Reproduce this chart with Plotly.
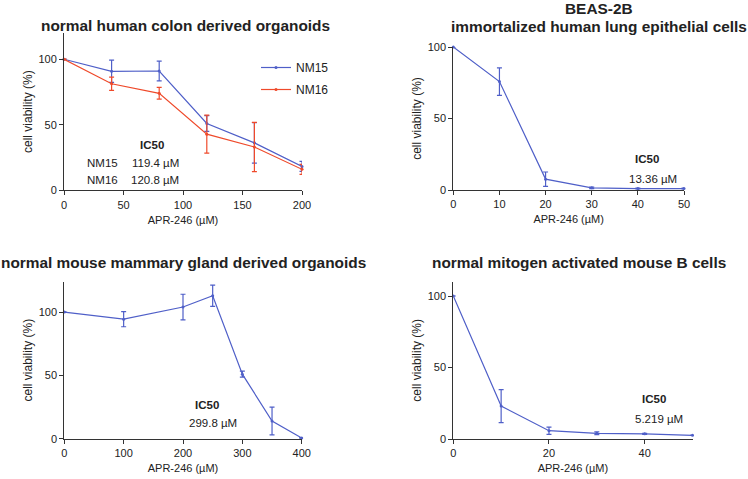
import plotly.graph_objects as go

BLUE = "#4F5FC8"
RED = "#EF4A2B"
FONT = "Arial, Liberation Sans, sans-serif"

# Panel 1: normal human colon derived organoids
p1_dose = [0, 40, 80, 120, 160, 200]
p1_nm15 = [100, 90.8, 91.0, 51.0, 36.2, 18.2]
p1_nm15_err = [0, 8.5, 7.5, 6.0, 15.5, 3.8]
p1_nm16 = [100, 81.3, 74.0, 42.8, 33.0, 16.0]
p1_nm16_err = [0, 5.0, 4.5, 14.5, 18.8, 3.8]

# Panel 2: BEAS-2B
p2_dose = [0, 10, 20, 30, 40, 50]
p2_via = [100, 75.8, 7.6, 1.5, 1.0, 1.0]
p2_err = [0, 9.6, 5.0, 0.5, 0.3, 0.3]

# Panel 3: normal mouse mammary gland derived organoids
p3_dose = [0, 100, 200, 250, 300, 350, 400]
p3_via = [100, 94.4, 104.0, 112.9, 51.0, 14.0, 0.5]
p3_err = [0, 6.0, 10.1, 8.4, 2.4, 11.0, 0.3]

# Panel 4: normal mitogen activated mouse B cells
p4_dose = [0, 10, 20, 30, 40, 50]
p4_via = [100, 23.0, 5.8, 4.0, 3.6, 2.6]
p4_err = [0, 11.5, 2.5, 1.0, 0.3, 0.0]

titles = [
    "normal human colon derived organoids",
    "BEAS-2B",
    "immortalized human lung epithelial cells",
    "normal mouse mammary gland derived organoids",
    "normal mitogen activated mouse B cells",
]

W, H = 748, 479


def px_x(a, b):
    return [a / W, b / W]


def px_y(top, bottom):
    return [1 - bottom / H, 1 - top / H]


fig = go.Figure()


def add_series(x, y, err, color, name, xa, ya, showlegend=False):
    fig.add_trace(go.Scatter(
        x=x, y=y, mode="lines+markers", name=name, legendgroup=name,
        line=dict(color=color, width=1.2),
        marker=dict(color=color, size=3),
        error_y=dict(type="data", array=err, visible=True, color=color,
                     thickness=1.2, width=2.5),
        xaxis=xa, yaxis=ya, showlegend=showlegend, cliponaxis=False,
        hoverinfo="skip",
    ))


add_series(p1_dose, p1_nm15, p1_nm15_err, BLUE, "NM15", "x", "y", True)
add_series(p1_dose, p1_nm16, p1_nm16_err, RED, "NM16", "x", "y", True)
add_series(p2_dose, p2_via, p2_err, BLUE, "BEAS-2B", "x2", "y2")
add_series(p3_dose, p3_via, p3_err, BLUE, "mammary", "x3", "y3")
add_series(p4_dose, p4_via, p4_err, BLUE, "B cells", "x4", "y4")

axis_common = dict(
    showline=True, linecolor="#333333", linewidth=1, ticks="outside",
    ticklen=4, tickcolor="#333333", showgrid=False, zeroline=False,
    tickfont=dict(family=FONT, size=11, color="#222222"), automargin=False,
)

x_title = dict(text="APR-246 (µM)", font=dict(family=FONT, size=11, color="#222222"), standoff=6)
y_title = dict(text="cell viability (%)", font=dict(family=FONT, size=12, color="#222222"), standoff=3)

fig.update_layout(
    xaxis=dict(domain=px_x(64, 302), range=[0, 200], tickvals=[0, 50, 100, 150, 200],
               anchor="y", title=x_title, **axis_common),
    yaxis=dict(domain=px_y(33, 190.3), range=[0, 120], tickvals=[0, 50, 100],
               anchor="x", title=y_title, **axis_common),
    xaxis2=dict(domain=px_x(453.3, 684), range=[0, 50], tickvals=[0, 10, 20, 30, 40, 50],
                anchor="y2", title=x_title, **axis_common),
    yaxis2=dict(domain=px_y(47, 190), range=[0, 100], tickvals=[0, 50, 100],
                anchor="x2", title=y_title, **axis_common),
    xaxis3=dict(domain=px_x(64.3, 301.7), range=[0, 400], tickvals=[0, 100, 200, 300, 400],
                anchor="y3", title=x_title, **axis_common),
    yaxis3=dict(domain=px_y(281.7, 438.7), range=[0, 124], tickvals=[0, 50, 100],
                anchor="x3", title=y_title, **axis_common),
    xaxis4=dict(domain=px_x(453.3, 692.5), range=[0, 50], tickvals=[0, 20, 40],
                anchor="y4", title=x_title, **axis_common),
    yaxis4=dict(domain=px_y(281.7, 439), range=[0, 110], tickvals=[0, 50, 100],
                anchor="x4", title=y_title, **axis_common),
    width=W, height=H, autosize=False,
    margin=dict(l=0, r=0, t=0, b=0, autoexpand=False),
    paper_bgcolor="white", plot_bgcolor="white",
    font=dict(family=FONT, color="#222222"),
    legend=dict(x=256 / W, y=1 - 53 / H, xanchor="left", yanchor="top",
                font=dict(family=FONT, size=12, color="#222222"),
                bgcolor="rgba(0,0,0,0)", itemwidth=30, tracegroupgap=3),
    showlegend=True,
    hovermode=False,
)

# Titles
title_pos = [(185, 25), (599, 9), (599, 26), (183, 262), (579, 262)]
for t, (cx, cy) in zip(titles, title_pos):
    fig.add_annotation(text="<b>" + t + "</b>", x=cx / W, y=1 - cy / H, xref="paper", yref="paper",
                       xanchor="center", yanchor="middle", showarrow=False,
                       font=dict(family=FONT, size=15.4, color="#222222"))

# IC50 annotations
ic50_notes = [
    ("x", "y", 74, 34.5, "<b>IC50</b>"),
    ("x", "y", 32, 20.8, "NM15"),
    ("x", "y", 76.5, 20.8, "119.4 µM"),
    ("x", "y", 32, 7.8, "NM16"),
    ("x", "y", 76.5, 7.8, "120.8 µM"),
    ("x2", "y2", 42, 21.7, "<b>IC50</b>"),
    ("x2", "y2", 43.3, 7.7, "13.36 µM"),
    ("x3", "y3", 240.4, 26.6, "<b>IC50</b>"),
    ("x3", "y3", 250.5, 12.4, "299.8 µM"),
    ("x4", "y4", 41.9, 27.7, "<b>IC50</b>"),
    ("x4", "y4", 43, 14, "5.219 µM"),
]
for xr, yr, x, y, txt in ic50_notes:
    fig.add_annotation(text=txt, x=x, y=y, xref=xr, yref=yr, showarrow=False,
                       xanchor="center", yanchor="middle",
                       font=dict(family=FONT, size=11.5, color="#222222"))

fig.write_html(
    "out.html",
    config={"responsive": False, "displayModeBar": False, "staticPlot": True},
    post_script="document.body.style.margin='0';document.documentElement.style.overflow='hidden';",
)
